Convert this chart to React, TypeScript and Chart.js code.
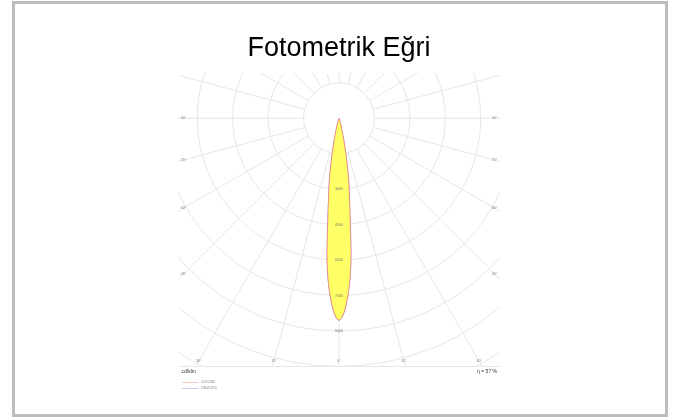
import React, { useEffect, useRef } from 'react';
import { Chart, registerables } from 'chart.js';

Chart.register(...registerables);

const TITLE = 'Fotometrik Eğri';
const UNIT_LABEL = 'cd/klm';
const EFFICIENCY_LABEL = 'η = 57 %';
const SERIES_NAMES = ['C0/C180', 'C90/C270'];

// gamma angles (degrees from nadir)
const ANGLES = [0, 1, 2, 3, 4, 5, 6, 7, 8, 9, 10, 11, 12, 13, 14, 15, 17, 20, 25, 30, 40, 50, 60, 70, 80, 90];
// luminous intensity, cd/klm
const C0 = [8550, 8380, 7980, 7430, 6730, 5800, 4600, 3720, 3080, 2540, 1970, 1470, 1050, 740, 500, 350, 200, 100, 50, 20, 5, 0, 0, 0, 0, 0];
const C180 = [8550, 8380, 7980, 7430, 6730, 5800, 4600, 3720, 3080, 2540, 1970, 1470, 1050, 740, 500, 350, 200, 100, 50, 20, 5, 0, 0, 0, 0, 0];
const C90 = [8550, 8380, 7980, 7430, 6730, 5800, 4600, 3720, 3080, 2540, 1970, 1470, 1050, 740, 500, 350, 200, 100, 50, 20, 5, 0, 0, 0, 0, 0];
const C270 = [8550, 8380, 7980, 7430, 6730, 5800, 4600, 3720, 3080, 2540, 1970, 1470, 1050, 740, 500, 350, 200, 100, 50, 20, 5, 0, 0, 0, 0, 0];

const RING_VALUES = [1500, 3000, 4500, 6000, 7500, 9000, 10500, 12000, 13500, 15000];
const RING_LABELS = [3000, 4500, 6000, 7500, 9000];
const RADIAL_ANGLES = [0, 15, 30, 45, 60, 75, 90, 105, 120, 135, 150, 165, 180, 195, 210, 225, 240, 255, 270, 285, 300, 315, 330, 345];
const ANGLE_LABELS = [0, 15, 30, 45, 60, 75, 90];

// visible window of the diagram, in cd/klm
const X_EXTENT = [-6813, 6813];
const Y_EXTENT = [-10480, 1917];

const FONT = '"Liberation Sans", Arial, sans-serif';
const GRID_COLOR = '#e6e6e6';
const LABEL_COLOR = '#777777';
const FILL_COLOR = 'rgb(255,255,102)';
const SERIES_COLORS = ['rgba(255,90,90,0.55)', 'rgba(90,90,255,0.55)'];
const LEGEND_COLORS = ['#ffc4c4', '#c8c8ff'];

const rad = (d: number) => (d * Math.PI) / 180;

function toPoints(right: number[], left: number[]) {
  const pts: { x: number; y: number }[] = [];
  for (let i = ANGLES.length - 1; i >= 0; i--) {
    const g = rad(-ANGLES[i]);
    pts.push({ x: left[i] * Math.sin(g), y: -left[i] * Math.cos(g) });
  }
  for (let i = 1; i < ANGLES.length; i++) {
    const g = rad(ANGLES[i]);
    pts.push({ x: right[i] * Math.sin(g), y: -right[i] * Math.cos(g) });
  }
  return pts;
}

const polarGrid = {
  id: 'polarGrid',
  beforeDatasetsDraw(chart: any) {
    const { ctx, chartArea: ca, scales } = chart;
    const xs = scales.x;
    const ys = scales.y;
    const cx = xs.getPixelForValue(0);
    const cy = ys.getPixelForValue(0);
    const k = (xs.getPixelForValue(1000) - cx) / 1000;
    ctx.save();
    ctx.beginPath();
    ctx.rect(ca.left, ca.top, ca.right - ca.left, ca.bottom - ca.top);
    ctx.clip();
    ctx.strokeStyle = GRID_COLOR;
    ctx.lineWidth = 1;
    RING_VALUES.forEach((v) => {
      ctx.beginPath();
      ctx.arc(cx, cy, v * k, 0, Math.PI * 2);
      ctx.stroke();
    });
    const r0 = RING_VALUES[0] * k;
    const r1 = RING_VALUES[RING_VALUES.length - 1] * k * 1.5;
    RADIAL_ANGLES.forEach((a) => {
      const s = Math.sin(rad(a));
      const c = Math.cos(rad(a));
      ctx.beginPath();
      ctx.moveTo(cx + r0 * s, cy + r0 * c);
      ctx.lineTo(cx + r1 * s, cy + r1 * c);
      ctx.stroke();
    });
    ctx.restore();
    ctx.save();
    ctx.strokeStyle = '#e8e8e8';
    ctx.lineWidth = 1;
    ctx.beginPath();
    ctx.moveTo(ca.left, Math.round(ca.bottom) + 0.5);
    ctx.lineTo(ca.right, Math.round(ca.bottom) + 0.5);
    ctx.stroke();
    ctx.restore();
  },
  afterDatasetsDraw(chart: any) {
    const { ctx, chartArea: ca, scales } = chart;
    const xs = scales.x;
    const ys = scales.y;
    const cx = xs.getPixelForValue(0);
    const cy = ys.getPixelForValue(0);
    const k = (xs.getPixelForValue(1000) - cx) / 1000;
    ctx.save();
    ctx.fillStyle = LABEL_COLOR;
    ctx.textAlign = 'center';
    ctx.textBaseline = 'middle';
    ctx.font = `3.6px ${FONT}`;
    RING_LABELS.forEach((v) => {
      ctx.fillText(String(v), cx, cy + v * k);
    });
    // angle labels where the rays meet the (slightly inset) frame
    const leftX = ca.left + 5.5;
    const rightX = ca.right - 5.5;
    const bottomY = ca.bottom - 5;
    ANGLE_LABELS.forEach((a) => {
      const s = Math.sin(rad(a));
      const c = Math.cos(rad(a));
      const sides = a === 0 ? [1] : [-1, 1];
      sides.forEach((side) => {
        let t = Infinity;
        if (s > 1e-6) t = Math.min(t, (side < 0 ? cx - leftX : rightX - cx) / s);
        if (c > 1e-6) t = Math.min(t, (bottomY - cy) / c);
        ctx.fillText(`${a}°`, cx + side * t * s, cy + t * c);
      });
    });
    ctx.restore();

    // unit, efficiency and legend
    ctx.save();
    ctx.fillStyle = '#333333';
    ctx.textBaseline = 'middle';
    ctx.font = `5px ${FONT}`;
    ctx.textAlign = 'left';
    ctx.fillText(UNIT_LABEL, ca.left + 3.5, ca.bottom + 6);
    ctx.textAlign = 'right';
    ctx.fillText(EFFICIENCY_LABEL, ca.right - 3, ca.bottom + 6);
    ctx.font = `3.5px ${FONT}`;
    ctx.textAlign = 'left';
    ctx.fillStyle = LABEL_COLOR;
    SERIES_NAMES.forEach((name, i) => {
      const y = ca.bottom + 16 + i * 6;
      ctx.strokeStyle = LEGEND_COLORS[i];
      ctx.lineWidth = 1;
      ctx.beginPath();
      ctx.moveTo(ca.left + 4, Math.round(y) + 0.5);
      ctx.lineTo(ca.left + 20, Math.round(y) + 0.5);
      ctx.stroke();
      ctx.fillText(name, ca.left + 23, y + 0.5);
    });
    ctx.restore();
  },
};

export default function App() {
  const ref = useRef<HTMLCanvasElement | null>(null);
  useEffect(() => {
    if (!ref.current) return;
    const chart = new Chart(ref.current, {
      type: 'scatter',
      data: {
        datasets: [
          {
            label: SERIES_NAMES[0],
            data: toPoints(C0, C180),
            showLine: true,
            borderColor: SERIES_COLORS[0],
            backgroundColor: FILL_COLOR,
            borderWidth: 1,
            pointRadius: 0,
            tension: 0.3,
            fill: 'shape',
          },
          {
            label: SERIES_NAMES[1],
            data: toPoints(C90, C270),
            showLine: true,
            borderColor: SERIES_COLORS[1],
            backgroundColor: 'transparent',
            borderWidth: 1,
            pointRadius: 0,
            tension: 0.3,
            fill: false,
          },
        ],
      },
      options: {
        responsive: false,
        animation: false,
        layout: { padding: { left: 163, right: 165, top: 0, bottom: 48 } },
        scales: {
          x: { type: 'linear', min: X_EXTENT[0], max: X_EXTENT[1], display: false },
          y: { type: 'linear', min: Y_EXTENT[0], max: Y_EXTENT[1], display: false },
        },
        plugins: {
          legend: { display: false },
          tooltip: { enabled: false },
          title: {
            display: true,
            text: TITLE,
            color: '#000000',
            font: { family: FONT, size: 27, weight: 'normal', lineHeight: 1.2 },
            padding: { top: 28, bottom: 8.6 },
          },
        },
      },
      plugins: [polarGrid],
    });
    return () => chart.destroy();
  }, []);

  return (
    <div
      style={{
        position: 'absolute',
        left: 12,
        top: 1,
        width: 656,
        height: 416,
        boxSizing: 'border-box',
        border: '3px solid #bdbdbd',
        background: '#ffffff',
      }}
    >
      <canvas
        ref={ref}
        width={650}
        height={410}
        style={{ position: 'absolute', left: 0, top: 0, width: 650, height: 410 }}
      />
    </div>
  );
}
